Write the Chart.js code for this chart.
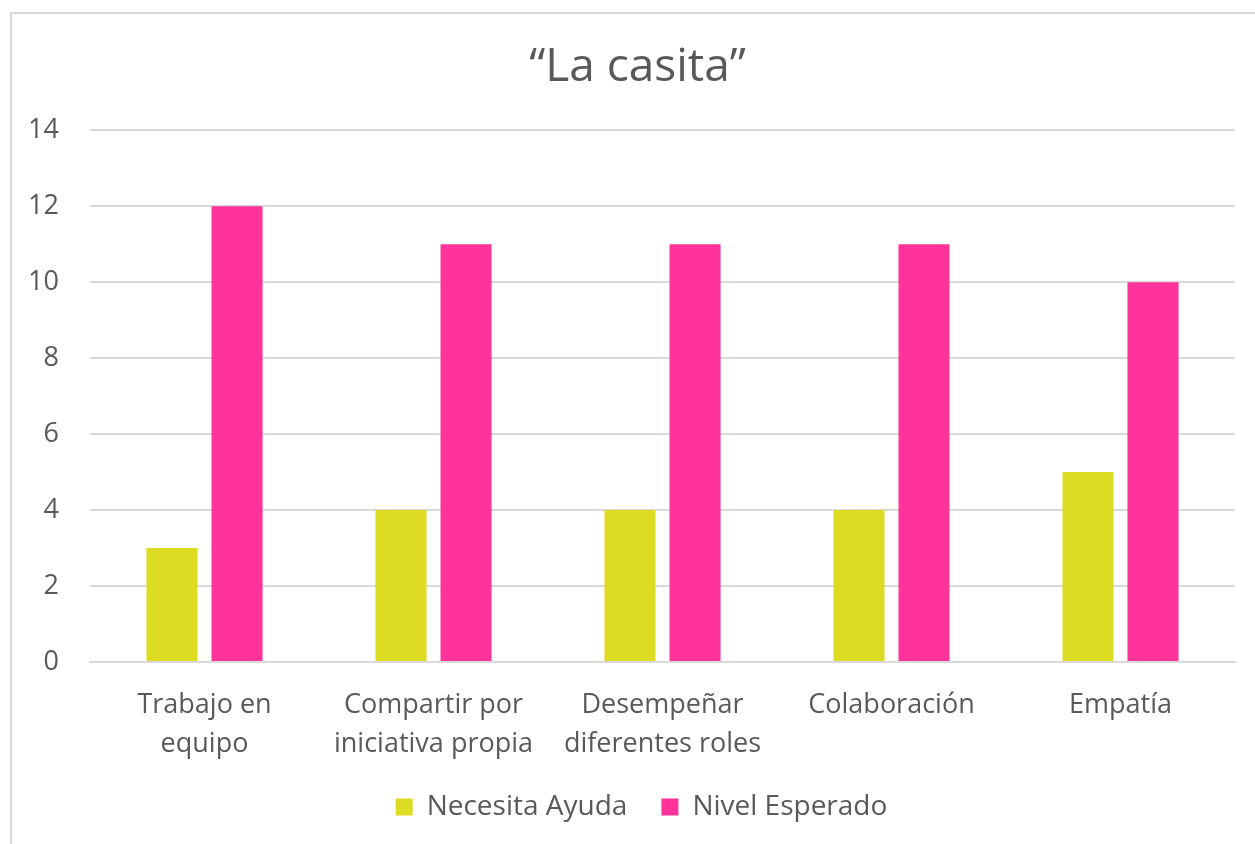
<!DOCTYPE html>
<html>
<head>
<meta charset="utf-8">
<script src="https://cdn.jsdelivr.net/npm/chart.js@4"></script>
<style>
  html, body { margin: 0; padding: 0; background: #fff; overflow: hidden; }
  #frame {
    position: absolute; left: 10px; top: 12px;
    width: 1245px; height: 832px;
    border-left: 2px solid #d9d9d9; border-top: 2px solid #d9d9d9;
  }
  #chart { display: block; }
</style>
</head>
<body>
<div id="frame"><canvas id="chart" width="1243" height="830"></canvas></div>
<script>
const categories = [
  ['Trabajo en', 'equipo'],
  ['Compartir por', 'iniciativa propia'],
  ['Desempeñar', 'diferentes roles'],
  'Colaboración',
  'Empatía'
];
const necesitaAyuda = [3, 4, 4, 4, 5];
const nivelEsperado = [12, 11, 11, 11, 10];

const textColor = '#595959';
const font = 'Open Sans';

// nudge title and legend a bit right, like the original
const shiftBoxes = {
  id: 'shiftBoxes',
  afterLayout(chart) {
    chart.titleBlock.left += 6;
    chart.titleBlock.right += 6;
    chart.legend.left += 10;
    chart.legend.right += 10;
  }
};

new Chart(document.getElementById('chart'), {
  type: 'bar',
  data: {
    labels: categories,
    datasets: [
      { label: 'Necesita Ayuda', data: necesitaAyuda, backgroundColor: '#dedc22' },
      { label: 'Nivel Esperado', data: nivelEsperado, backgroundColor: '#ff3399' }
    ]
  },
  plugins: [shiftBoxes],
  options: {
    responsive: false,
    animation: false,
    layout: { padding: { left: 16, right: 20, top: 0, bottom: 13 } },
    datasets: { bar: { categoryPercentage: 0.568, barPercentage: 0.785 } },
    plugins: {
      tooltip: { enabled: false },
      title: {
        display: true,
        text: '“La casita”',
        color: textColor,
        font: { family: font, size: 46, weight: 'normal' },
        padding: { top: 26, bottom: 35 }
      },
      legend: {
        position: 'bottom',
        labels: {
          color: textColor,
          font: { family: font, size: 28 },
          boxWidth: 17, boxHeight: 17,
          padding: 34
        }
      }
    },
    scales: {
      x: {
        grid: { display: false },
        border: { color: '#d9d9d9', width: 2 },
        ticks: {
          color: textColor,
          font: { family: font, size: 27, lineHeight: 1.45 },
          padding: 16,
          maxRotation: 0, autoSkip: false
        },
        afterFit: s => { s.height = 97; }
      },
      y: {
        min: 0, max: 14,
        grid: { color: '#d9d9d9', lineWidth: 2, drawTicks: false },
        border: { display: false },
        ticks: {
          stepSize: 2,
          color: textColor,
          font: { family: font, size: 27 },
          padding: 31
        },
        afterFit: s => { s.width = 62; }
      }
    }
  }
});
</script>
</body>
</html>
